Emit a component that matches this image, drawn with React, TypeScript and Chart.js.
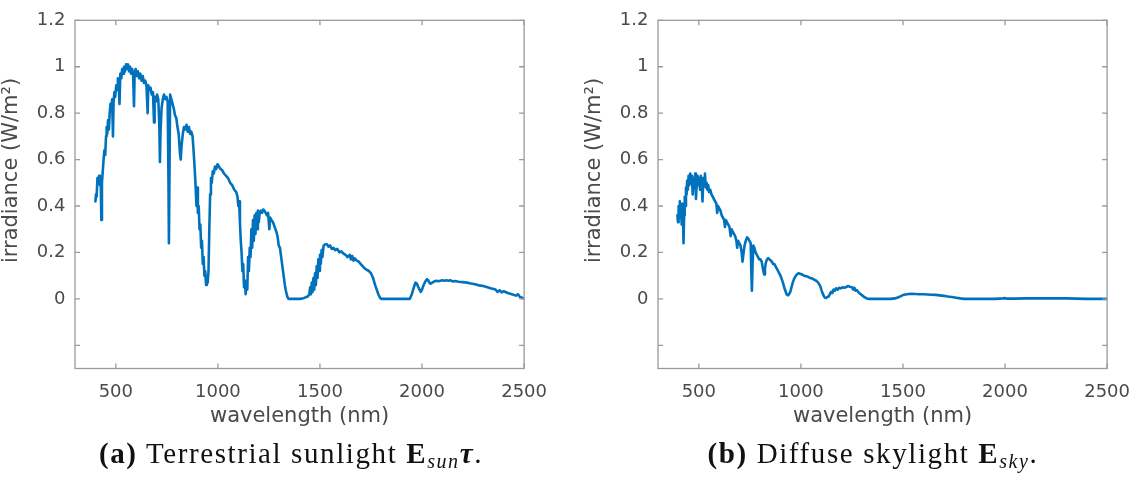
import React, { useEffect, useRef } from "react";
import { Chart, registerables } from "chart.js";

Chart.register(...registerables);

// ---- Data ----
const xTicks = [500, 1000, 1500, 2000, 2500];
const yTicks = [-0.2, 0, 0.2, 0.4, 0.6, 0.8, 1, 1.2];
const xRange = [300, 2500];
const yRange = [-0.3, 1.2];

const sunWl = [
  400, 403, 406, 410, 414, 418, 422, 426, 429, 432, 436, 440, 444, 448, 452, 455, 458, 462, 466, 470,
  474, 478, 482, 486, 489, 493, 497, 502, 506, 510, 514, 518, 522, 527, 531, 536, 540, 545, 550, 555,
  560, 565, 570, 575, 580, 585, 589, 592, 597, 602, 608, 614, 620, 626, 632, 638, 644, 650, 656, 659,
  664, 670, 676, 682, 687, 690, 696, 702, 708, 713, 716, 719, 724, 730, 736, 742, 748, 754, 758, 760,
  763, 766, 772, 778, 784, 790, 796, 802, 808, 814, 818, 822, 828, 834, 840, 846, 852, 858, 864, 870,
  876, 880, 885, 890, 895, 898, 902, 906, 910, 914, 918, 922, 926, 930, 934, 938, 942, 946, 950, 954,
  958, 962, 966, 970, 975, 980, 986, 992, 998, 1005, 1012, 1020, 1030, 1040, 1050, 1060, 1070, 1080, 1090, 1096,
  1100, 1104, 1108, 1112, 1116, 1120, 1124, 1128, 1132, 1136, 1140, 1144, 1148, 1152, 1156, 1160, 1164, 1168, 1172, 1176,
  1180, 1184, 1188, 1192, 1196, 1200, 1205, 1210, 1216, 1222, 1228, 1234, 1240, 1246, 1252, 1256, 1262, 1270, 1278, 1286,
  1292, 1298, 1304, 1310, 1316, 1322, 1328, 1334, 1340, 1346, 1360, 1380, 1400, 1420, 1440, 1448, 1452, 1456, 1460, 1464,
  1468, 1472, 1476, 1480, 1484, 1488, 1492, 1496, 1500, 1504, 1508, 1512, 1518, 1526, 1534, 1542, 1550, 1558, 1566, 1575,
  1585, 1595, 1605, 1615, 1625, 1635, 1645, 1652, 1658, 1664, 1670, 1680, 1690, 1700, 1710, 1720, 1730, 1740, 1750, 1760,
  1770, 1778, 1786, 1794, 1800, 1850, 1900, 1940, 1950, 1960, 1968, 1975, 1982, 1988, 1994, 2000, 2008, 2016, 2024, 2030,
  2036, 2042, 2050, 2060, 2070, 2080, 2090, 2100, 2110, 2120, 2130, 2140, 2150, 2160, 2180, 2200, 2220, 2240, 2260, 2280,
  2300, 2320, 2340, 2360, 2370, 2380, 2390, 2400, 2420, 2440, 2460, 2470, 2480, 2490, 2500,
];
const sunVal = [
  0.42, 0.45, 0.44, 0.52, 0.50, 0.53, 0.49, 0.51, 0.34, 0.50, 0.55, 0.60, 0.64, 0.62, 0.70, 0.74, 0.71, 0.77, 0.73, 0.80,
  0.84, 0.82, 0.86, 0.70, 0.85, 0.89, 0.87, 0.92, 0.90, 0.95, 0.93, 0.84, 0.97, 0.95, 0.99, 0.97, 1.00, 0.98, 1.01, 0.99,
  1.01, 0.98, 1.00, 0.97, 0.99, 0.96, 0.83, 0.97, 0.99, 0.96, 0.98, 0.95, 0.97, 0.94, 0.96, 0.93, 0.94, 0.92, 0.80, 0.92,
  0.90, 0.91, 0.88, 0.89, 0.76, 0.87, 0.85, 0.88, 0.86, 0.75, 0.59, 0.72, 0.82, 0.86, 0.88, 0.86, 0.87, 0.85, 0.50, 0.24,
  0.55, 0.88, 0.86, 0.84, 0.82, 0.79, 0.78, 0.74, 0.71, 0.63, 0.60, 0.66, 0.71, 0.74, 0.73, 0.75, 0.72, 0.74, 0.71, 0.72,
  0.70, 0.65, 0.58, 0.50, 0.40, 0.48, 0.37, 0.40, 0.30, 0.32, 0.22, 0.25, 0.15, 0.18, 0.10, 0.12, 0.06, 0.08, 0.07, 0.12,
  0.30, 0.45, 0.52, 0.50, 0.55, 0.54, 0.57, 0.56, 0.58, 0.57, 0.56, 0.555, 0.54, 0.53, 0.52, 0.50, 0.49, 0.47, 0.46, 0.44,
  0.40, 0.42, 0.33, 0.25, 0.20, 0.12, 0.15, 0.05, 0.08, 0.02, 0.06, 0.04, 0.18, 0.12, 0.22, 0.18, 0.30, 0.22, 0.34, 0.25,
  0.36, 0.28, 0.37, 0.30, 0.38, 0.33, 0.37, 0.38, 0.37, 0.385, 0.38, 0.37, 0.36, 0.37, 0.30, 0.35, 0.34, 0.33, 0.31, 0.29,
  0.27, 0.23, 0.22, 0.18, 0.14, 0.10, 0.06, 0.03, 0.01, 0.0, 0.0, 0.0, 0.0, 0.003, 0.01, 0.02, 0.05, 0.02, 0.07, 0.03,
  0.09, 0.04, 0.11, 0.06, 0.14, 0.09, 0.17, 0.12, 0.19, 0.15, 0.21, 0.18, 0.23, 0.235, 0.235, 0.225, 0.23, 0.215, 0.22, 0.21,
  0.215, 0.20, 0.205, 0.195, 0.19, 0.18, 0.19, 0.17, 0.185, 0.165, 0.175, 0.165, 0.16, 0.15, 0.14, 0.13, 0.125, 0.12, 0.11, 0.09,
  0.06, 0.04, 0.02, 0.005, 0.0, 0.0, 0.0, 0.0, 0.02, 0.05, 0.07, 0.065, 0.05, 0.04, 0.03, 0.04, 0.06, 0.075, 0.085, 0.08,
  0.07, 0.065, 0.07, 0.075, 0.078, 0.076, 0.078, 0.08, 0.078, 0.08, 0.078, 0.08, 0.075, 0.077, 0.074, 0.072, 0.07, 0.066, 0.063, 0.058,
  0.055, 0.05, 0.045, 0.04, 0.03, 0.037, 0.028, 0.033, 0.025, 0.02, 0.014, 0.02, 0.008, 0.005, 0.0,
];

const skyWl = [
  395, 398, 401, 404, 407, 410, 413, 416, 419, 422, 425, 428, 431, 434, 437, 440, 443, 446, 450, 454,
  458, 462, 466, 470, 474, 478, 482, 486, 490, 494, 498, 502, 506, 510, 514, 518, 522, 526, 530, 534,
  538, 542, 546, 550, 556, 562, 568, 574, 580, 586, 590, 594, 600, 606, 612, 618, 624, 628, 632, 638,
  644, 650, 656, 660, 666, 672, 678, 684, 688, 692, 698, 704, 710, 714, 718, 724, 730, 736, 742, 748,
  754, 757, 760, 763, 767, 772, 778, 784, 790, 796, 802, 808, 812, 816, 820, 824, 828, 834, 840, 846,
  852, 858, 864, 870, 876, 882, 888, 894, 900, 906, 912, 918, 924, 930, 936, 942, 948, 954, 960, 966,
  972, 980, 988, 996, 1005, 1015, 1025, 1035, 1045, 1055, 1065, 1075, 1085, 1095, 1100, 1106, 1112, 1118, 1124, 1130,
  1136, 1142, 1148, 1154, 1160, 1166, 1172, 1180, 1188, 1196, 1204, 1212, 1220, 1230, 1240, 1250, 1256, 1262, 1268, 1274,
  1280, 1290, 1300, 1310, 1320, 1330, 1360, 1400, 1440, 1460, 1475, 1490, 1505, 1520, 1540, 1560, 1580, 1600, 1620, 1640,
  1660, 1680, 1700, 1720, 1740, 1760, 1780, 1800, 1850, 1900, 1950, 1990, 2000, 2010, 2050, 2100, 2200, 2300, 2350, 2400,
  2450, 2500,
];
const skyVal = [
  0.36, 0.33, 0.40, 0.35, 0.42, 0.37, 0.40, 0.32, 0.41, 0.38, 0.24, 0.36, 0.44, 0.40, 0.48, 0.45, 0.51, 0.47, 0.53, 0.49,
  0.54, 0.50, 0.53, 0.45, 0.52, 0.48, 0.54, 0.43, 0.50, 0.53, 0.49, 0.52, 0.47, 0.53, 0.50, 0.42, 0.52, 0.49, 0.54, 0.48,
  0.50, 0.47, 0.49, 0.46, 0.47, 0.45, 0.44, 0.43, 0.42, 0.41, 0.37, 0.40, 0.39, 0.38, 0.36, 0.35, 0.34, 0.31, 0.34, 0.33,
  0.32, 0.31, 0.27, 0.30, 0.29, 0.28, 0.27, 0.25, 0.22, 0.25, 0.24, 0.23, 0.20, 0.16, 0.19, 0.23, 0.25, 0.265, 0.26, 0.25,
  0.24, 0.12, 0.035, 0.14, 0.23, 0.22, 0.20, 0.19, 0.18, 0.17, 0.17, 0.16, 0.14, 0.12, 0.105, 0.13, 0.155, 0.17, 0.175, 0.17,
  0.165, 0.16, 0.15, 0.15, 0.14, 0.13, 0.12, 0.11, 0.10, 0.085, 0.07, 0.05, 0.035, 0.02, 0.015, 0.02, 0.03, 0.05, 0.07, 0.085,
  0.095, 0.105, 0.11, 0.108, 0.105, 0.10, 0.098, 0.095, 0.09, 0.088, 0.083, 0.078, 0.07, 0.055, 0.04, 0.025, 0.012, 0.005, 0.004, 0.008,
  0.01, 0.02, 0.03, 0.025, 0.04, 0.035, 0.045, 0.04, 0.048, 0.045, 0.05, 0.048, 0.05, 0.055, 0.052, 0.05, 0.04, 0.048, 0.035, 0.038,
  0.03, 0.022, 0.015, 0.008, 0.003, 0.0, 0.0, 0.0, 0.0, 0.002, 0.006, 0.012, 0.018, 0.02, 0.022, 0.021, 0.02, 0.02, 0.019, 0.018,
  0.017, 0.015, 0.013, 0.01, 0.008, 0.005, 0.002, 0.0, 0.0, 0.0, 0.0, 0.002, 0.003, 0.001, 0.001, 0.002, 0.002, 0.002, 0.001, 0.0,
  0.0, 0.0,
];

const xTitle = "wavelength (nm)";
const yTitle = "irradiance (W/m²)";

const LINE = "#0072BD";
const TEXT = "#4a4a4a";
const FRAME = "#9a9a9a";
const SANS = '"DejaVu Sans", sans-serif';

function SpectrumChart({ wl, val, padRight, left }: { wl: number[]; val: number[]; padRight: number; left: number }) {
  const ref = useRef<HTMLCanvasElement>(null);
  useEffect(() => {
    const canvas = ref.current!;
    const framePlugin = {
      id: "frame",
      afterDraw(chart: any) {
        const { ctx, chartArea: a, scales } = chart;
        const xs = scales.x;
        const ys = scales.y;
        ctx.save();
        ctx.strokeStyle = FRAME;
        ctx.lineWidth = 1.3;
        ctx.strokeRect(a.left, a.top, a.right - a.left, a.bottom - a.top);
        const tl = 5;
        ctx.beginPath();
        xTicks.forEach((v) => {
          const px = xs.getPixelForValue(v);
          ctx.moveTo(px, a.bottom);
          ctx.lineTo(px, a.bottom - tl);
          ctx.moveTo(px, a.top);
          ctx.lineTo(px, a.top + tl);
        });
        yTicks.forEach((v) => {
          const py = ys.getPixelForValue(v);
          ctx.moveTo(a.left, py);
          ctx.lineTo(a.left + tl, py);
          ctx.moveTo(a.right, py);
          ctx.lineTo(a.right - tl, py);
        });
        ctx.stroke();
        ctx.fillStyle = TEXT;
        ctx.font = `21px ${SANS}`;
        ctx.textAlign = "center";
        ctx.textBaseline = "middle";
        ctx.fillText(xTitle, (a.left + a.right) / 2, 417);
        ctx.translate(a.left - 63, 170.5);
        ctx.rotate(-Math.PI / 2);
        ctx.fillText(yTitle, 0, 0);
        ctx.restore();
      },
    };
    const chart = new Chart(canvas, {
      type: "line",
      data: {
        datasets: [
          {
            data: wl.map((x, i) => ({ x, y: val[i] })),
            borderColor: LINE,
            borderWidth: 2.6,
            pointRadius: 0,
            tension: 0,
            borderJoinStyle: "round",
            borderCapStyle: "round",
            fill: false,
          },
        ],
      },
      options: {
        animation: false,
        responsive: false,
        devicePixelRatio: 1,
        parsing: false,
        layout: { padding: { left: 0, right: padRight, top: 13, bottom: 0 } },
        plugins: { legend: { display: false }, tooltip: { enabled: false }, title: { display: false } },
        scales: {
          x: {
            type: "linear",
            min: xRange[0],
            max: xRange[1],
            grid: { display: false, drawTicks: false },
            border: { display: false },
            afterBuildTicks: (s: any) => {
              s.ticks = xTicks.map((v) => ({ value: v }));
            },
            afterFit: (s: any) => {
              s.height = 440 - 368.5;
            },
            ticks: {
              color: TEXT,
              font: { family: SANS, size: 18 },
              padding: 13,
              maxRotation: 0,
              autoSkip: false,
              callback: (v: any) => String(v),
            },
          },
          y: {
            type: "linear",
            min: yRange[0],
            max: yRange[1],
            grid: { display: false, drawTicks: false },
            border: { display: false },
            afterBuildTicks: (s: any) => {
              s.ticks = yTicks.map((v) => ({ value: v }));
            },
            afterFit: (s: any) => {
              s.width = 75;
            },
            ticks: {
              color: TEXT,
              font: { family: SANS, size: 18 },
              padding: 9.5,
              autoSkip: false,
              callback: (v: any) => (Math.abs(v + 0.2) < 1e-9 ? "" : String(Math.round(v * 10) / 10)),
            },
          },
        },
      },
      plugins: [framePlugin],
    } as any);
    return () => chart.destroy();
  }, []);
  return (
    <canvas
      ref={ref}
      width={560}
      height={440}
      style={{ position: "absolute", left, top: 0, width: 560, height: 440 }}
    />
  );
}

const capStyle: React.CSSProperties = {
  position: "absolute",
  top: 437,
  transform: "translateX(-50%)",
  whiteSpace: "nowrap",
  fontFamily: '"Liberation Serif", "Times New Roman", serif',
  fontSize: 29,
  letterSpacing: "1.6px",
  lineHeight: "32px",
  color: "#111",
};
const subStyle: React.CSSProperties = { fontSize: 20, verticalAlign: "-5px", lineHeight: 0, fontStyle: "italic" };

export default function App() {
  return (
    <div
      style={{
        position: "fixed",
        left: 0,
        top: 0,
        width: 1129,
        height: 477,
        overflow: "hidden",
        background: "#fff",
      }}
    >
      <SpectrumChart wl={sunWl} val={sunVal} padRight={34} left={0} />
      <SpectrumChart wl={skyWl} val={skyVal} padRight={35} left={583} />
      <div style={{ ...capStyle, left: 291 }}>
        <b>(a)</b> Terrestrial sunlight <b>E</b>
        <sub style={subStyle}>sun</sub>
        <b>
          <i>τ</i>
        </b>
        .
      </div>
      <div style={{ ...capStyle, left: 873 }}>
        <b>(b)</b> Diffuse skylight <b>E</b>
        <sub style={subStyle}>sky</sub>.
      </div>
    </div>
  );
}
